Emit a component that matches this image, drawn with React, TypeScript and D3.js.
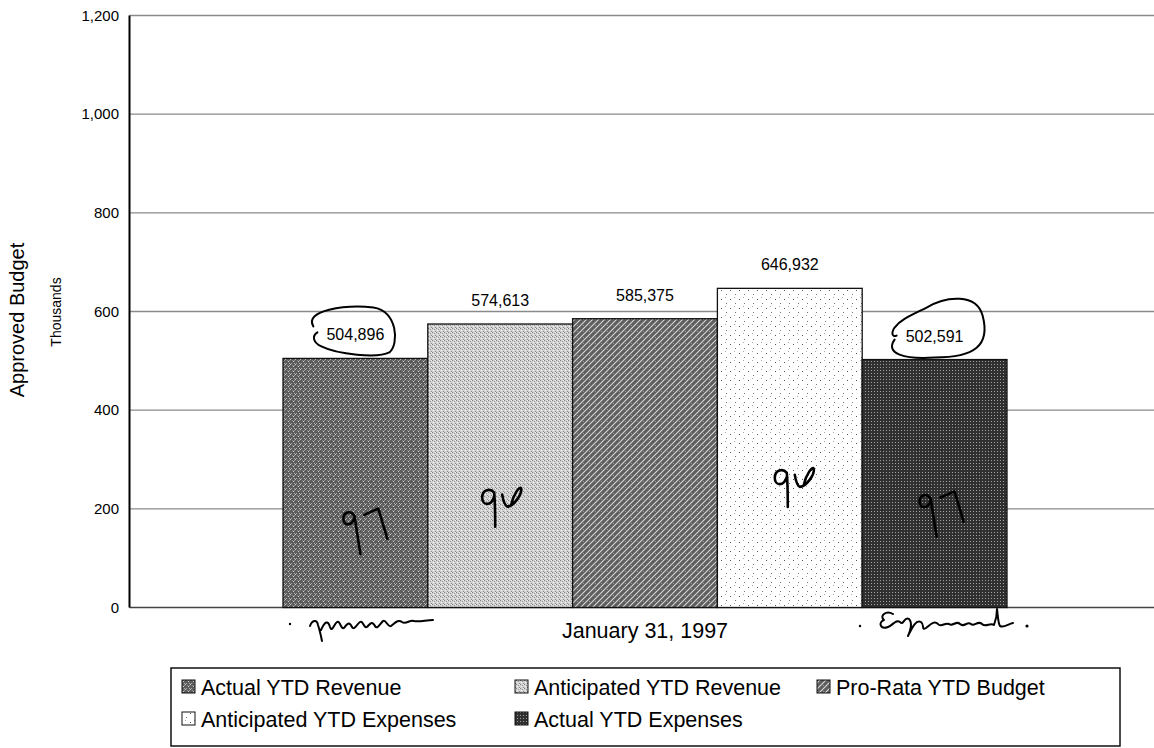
import React from 'react';
import * as d3 from 'd3';

const seriesNames = [
  'Actual YTD Revenue',
  'Anticipated YTD Revenue',
  'Pro-Rata YTD Budget',
  'Anticipated YTD Expenses',
  'Actual YTD Expenses',
];
const seriesValues = [504896, 574613, 585375, 646932, 502591];
const seriesPatterns = ['pActRev', 'pAntRev', 'pProRata', 'pAntExp', 'pActExp'];
const yTicks = [0, 200, 400, 600, 800, 1000, 1200];
const categoryLabel = 'January 31, 1997';

// legend layout: [column, row]
const legendSlots = [
  [0, 0],
  [1, 0],
  [2, 0],
  [0, 1],
  [1, 1],
];

// handwritten notes on the scan
const notes = [
  { bar: 0, text: '97' },
  { bar: 1, text: '96' },
  { bar: 3, text: '96' },
  { bar: 4, text: '97' },
];
const circled = [0, 4];

const FONT = '"Liberation Sans", Arial, Helvetica, sans-serif';

const glyph97 =
  'M12,7 C8,1 1,3 1,10 C1,17 9,18 12,9 M12,7 C14,20 16,32 18,45 M22,6 C27,4 32,1 36,0 C39,10 42,20 45,30';
const glyph96 =
  'M14,6 C10,1 2,3 2,11 C2,19 11,20 14,10 M14,6 C15,18 15,29 15,40 M22,8 C23,14 25,19 27,20 C33,20 42,8 41,2 C40,-2 33,8 31,18';

const App = () => {
  const Width = 1154;
  const Height = 748;
  const plotLeft = 129.5;
  const plotRight = 1154;

  const yScale = d3.scaleLinear().domain([0, 1200]).range([607.5, 15.5]);
  const xScale = d3.scaleBand().domain(seriesNames).range([283, 1007]).padding(0);
  const bw = xScale.bandwidth();

  const fmt = d3.format(',');

  const grid = yTicks.map((t) => (
    <line key={t} x1={plotLeft} x2={plotRight} y1={yScale(t)} y2={yScale(t)}
      stroke={t === 0 ? '#444' : '#8a8a8a'} strokeWidth={1.4} />
  ));

  const tickLabels = yTicks.map((t) => (
    <text key={t} x={119} y={yScale(t)} dy="0.35em" textAnchor="end"
      style={{ fontSize: '15px', fontFamily: FONT }}>
      {fmt(t)}
    </text>
  ));

  const bars = seriesNames.map((name, i) => {
    const v = seriesValues[i] / 1000;
    const x = xScale(name)!;
    return (
      <g key={name}>
        <rect x={x} y={yScale(v)} width={bw} height={yScale(0) - yScale(v)}
          fill={`url(#${seriesPatterns[i]})`} stroke="#111" strokeWidth={1.3} />
        <text x={x + bw / 2} y={yScale(v) - 18} textAnchor="middle"
          style={{ fontSize: '16px', fontFamily: FONT }}>
          {fmt(seriesValues[i])}
        </text>
      </g>
    );
  });

  const circles = circled.map((i) => {
    const cx = xScale(seriesNames[i])! + bw / 2;
    const by = yScale(seriesValues[i] / 1000) - 18;
    const d = i === 0
      ? `M${cx - 42},${by - 14} C${cx - 52},${by - 30} ${cx - 10},${by - 36} ${cx + 18},${by - 33} C${cx + 42},${by - 30} ${cx + 44},${by + 4} ${cx + 34},${by + 12} C${cx + 22},${by + 18} ${cx - 18},${by + 14} ${cx - 34},${by + 6} C${cx - 42},${by + 2} ${cx - 44},${by - 4} ${cx - 38},${by - 8}`
      : `M${cx - 40},${by - 2} C${cx - 50},${by + 12} ${cx - 30},${by + 18} ${cx},${by + 16} C${cx + 40},${by + 16} ${cx + 56},${by + 4} ${cx + 48},${by - 26} C${cx + 42},${by - 48} ${cx + 12},${by - 46} ${cx - 8},${by - 34} C${cx - 24},${by - 26} ${cx - 34},${by - 22} ${cx - 40},${by - 14} C${cx - 44},${by - 8} ${cx - 42},${by - 4} ${cx - 38},${by - 6}`;
    return <path key={i} d={d} fill="none" stroke="#000" strokeWidth={2} strokeLinecap="round" />;
  });

  const noteOffsets: Record<number, [number, number]> = {
    0: [-13, yScale(200)],
    1: [-20, yScale(245)],
    3: [-17, yScale(285)],
    4: [-16, yScale(235)],
  };

  const handNotes = notes.map((n) => {
    const cx = xScale(seriesNames[n.bar])! + bw / 2;
    const [dx, y] = noteOffsets[n.bar];
    return (
      <path key={n.bar} transform={`translate(${cx + dx},${y})`}
        d={n.text === '97' ? glyph97 : glyph96}
        fill="none" stroke="#000" strokeWidth={2.6} strokeLinecap="round" strokeLinejoin="round" />
    );
  });

  const legendCols = [182, 515, 817];
  const legendRows = [695, 727];

  const legend = seriesNames.map((name, i) => {
    const [c, r] = legendSlots[i];
    const x = legendCols[c];
    const y = legendRows[r];
    return (
      <g key={name}>
        <rect x={x} y={y - 15} width={13} height={13} fill={`url(#${seriesPatterns[i]})`}
          stroke="#111" strokeWidth={1} />
        <text x={x + 19} y={y} style={{ fontSize: '21.5px', fontFamily: FONT }}>{name}</text>
      </g>
    );
  });

  return (
    <svg width={Width} height={Height} style={{ position: 'absolute', left: 0, top: 0, background: '#fff' }}>
      <defs>
        <pattern id="pActRev" width="5" height="5" patternUnits="userSpaceOnUse">
          <rect width="5" height="5" fill="#5c5c5c" />
          <rect x="0" y="4" width="1" height="1" fill="#c8c8c8" />
          <rect x="1" y="3" width="1" height="1" fill="#a8a8a8" />
          <rect x="3" y="1" width="1" height="1" fill="#d0d0d0" />
          <rect x="4" y="0" width="1" height="1" fill="#9a9a9a" />
          <rect x="2" y="0" width="1" height="1" fill="#888" />
          <rect x="4" y="3" width="1" height="1" fill="#b0b0b0" />
        </pattern>
        <pattern id="pAntRev" width="4" height="4" patternUnits="userSpaceOnUse">
          <rect width="4" height="4" fill="#d2d2d2" />
          <rect x="0" y="0" width="1" height="1" fill="#808080" />
          <rect x="2" y="1" width="1" height="1" fill="#9a9a9a" />
          <rect x="3" y="3" width="1" height="1" fill="#8a8a8a" />
          <rect x="1" y="2" width="1" height="1" fill="#f4f4f4" />
          <rect x="3" y="0" width="1" height="1" fill="#f0f0f0" />
        </pattern>
        <pattern id="pProRata" width="6" height="6" patternUnits="userSpaceOnUse">
          <rect width="6" height="6" fill="#5e5e5e" />
          <path d="M0,6 L6,0 M-1,1 L1,-1 M5,7 L7,5" stroke="#d8d8d8" strokeWidth="1.1" />
          <rect x="1" y="1" width="1" height="1" fill="#999" />
        </pattern>
        <pattern id="pAntExp" width="9" height="9" patternUnits="userSpaceOnUse">
          <rect width="9" height="9" fill="#fff" />
          <rect x="1" y="2" width="1" height="1" fill="#555" />
          <rect x="6" y="6" width="1" height="1" fill="#777" />
          <rect x="5" y="0" width="1" height="1" fill="#aaa" />
        </pattern>
        <pattern id="pActExp" width="3" height="3" patternUnits="userSpaceOnUse">
          <rect width="3" height="3" fill="#303030" />
          <rect x="1" y="1" width="1" height="1" fill="#a0a0a0" />
        </pattern>
      </defs>

      <g>{grid}</g>
      <g>{bars}</g>
      <line x1={plotLeft} x2={plotLeft} y1={yScale(1200)} y2={yScale(0)} stroke="#000" strokeWidth={2} />
      <g>{tickLabels}</g>

      <text transform={`translate(24, 320) rotate(-90)`} textAnchor="middle"
        style={{ fontSize: '20px', fontFamily: FONT }}>
        Approved Budget
      </text>
      <text transform={`translate(61, 312) rotate(-90)`} textAnchor="middle"
        style={{ fontSize: '14px', fontFamily: FONT }}>
        Thousands
      </text>

      <text x={(xScale.range()[0] + xScale.range()[1]) / 2} y={638} textAnchor="middle"
        style={{ fontSize: '21.5px', fontFamily: FONT }}>
        {categoryLabel}
      </text>

      <g>{circles}</g>
      <g>{handNotes}</g>

      {/* signatures under the outer bars */}
      <g fill="none" stroke="#000" strokeWidth={2} strokeLinecap="round" strokeLinejoin="round">
        <path d="M310,626 C312,620 317,619 318,625 C320,631 321,636 322,641 M321,630 C325,621 328,620 330,627 C332,633 334,624 337,622 C340,620 341,630 344,628 C347,624 349,621 352,627 C354,631 357,624 360,622 C363,620 364,629 367,627 C370,624 372,620 375,626 C377,630 380,624 383,621 C386,619 388,628 391,626 C395,623 398,619 402,622 C406,625 410,619 414,621 C420,622 426,620 433,620" />
        <path d="M893,614 C886,610 879,616 884,620 C878,622 880,630 888,627 C893,625 896,619 900,622 C904,626 904,616 909,619 C913,623 910,632 908,636 C912,628 916,619 921,622 C925,625 921,631 926,628 C930,625 934,620 938,624 C941,628 945,622 949,624 C953,627 956,620 960,624 C964,628 967,621 971,624 C974,627 978,620 982,624 C986,628 990,622 994,625 C996,620 997,614 997,609 C998,616 998,623 1000,626 C1004,628 1008,624 1013,623" />
      </g>
      <g fill="#000">
        <circle cx={290} cy={624} r={1.2} />
        <circle cx={860} cy={626} r={1.2} />
        <circle cx={1027} cy={626} r={1.6} />
      </g>

      <rect x={171} y={668} width={949} height={78} fill="none" stroke="#111" strokeWidth={1.5} />
      <g>{legend}</g>
    </svg>
  );
};

export default App;
